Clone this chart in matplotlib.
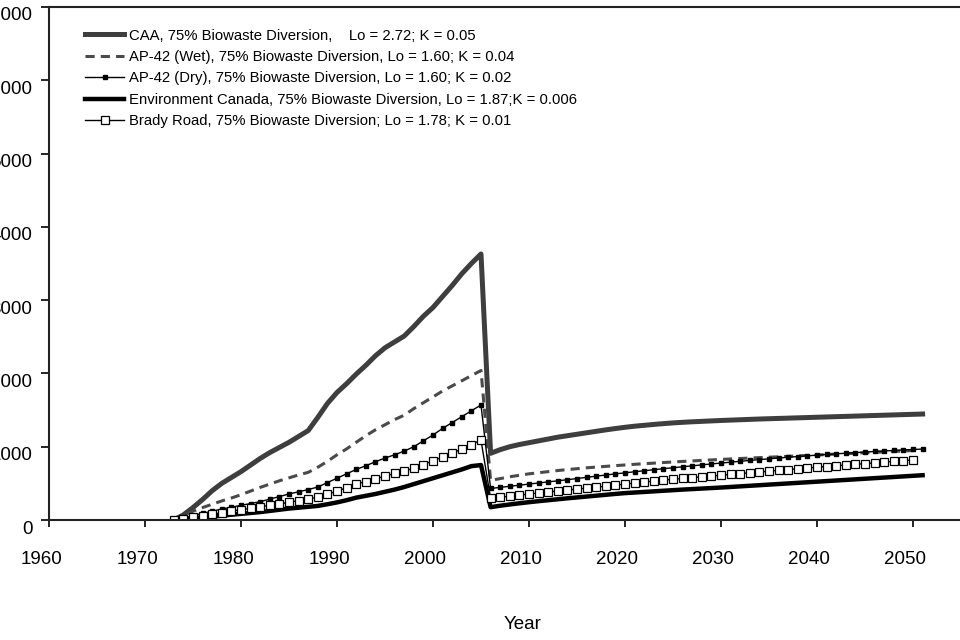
import matplotlib
matplotlib.use("Agg")
import matplotlib.pyplot as plt
import matplotlib.transforms as mtransforms

plt.rcParams['font.family'] = ['Liberation Sans', 'DejaVu Sans']

# yearly landfill gas generation, 1973-2051
years = list(range(1973, 2052))
years_brady = list(range(1973, 2051))

caa = [0, 70, 170, 280, 400, 500, 580, 660, 750, 840,
       920, 990, 1060, 1140, 1220, 1400, 1590, 1740, 1860, 1990,
       2110, 2240, 2350, 2430, 2510, 2640, 2780, 2900, 3050, 3200,
       3360, 3500, 3630, 910, 960, 1000, 1030, 1055, 1080, 1105,
       1130, 1150, 1170, 1190, 1210, 1230, 1248, 1265, 1280, 1292,
       1304, 1315, 1325, 1333, 1340, 1346, 1352, 1358, 1363, 1368,
       1373, 1378, 1382, 1386, 1390, 1394, 1398, 1402, 1406, 1410,
       1414, 1418, 1422, 1426, 1430, 1434, 1438, 1442, 1446]

ap42_wet = [0, 60, 120, 170, 215, 260, 300, 345, 395, 445,
            490, 535, 575, 615, 650, 720, 800, 890, 970, 1060,
            1150, 1230, 1300, 1370, 1430, 1520, 1600, 1680, 1760, 1830,
            1900, 1970, 2040, 540, 565, 590, 610, 630, 645, 660,
            675, 688, 700, 712, 722, 732, 742, 751, 760, 768,
            776, 784, 792, 799, 806, 813, 820, 826, 833, 839,
            845, 851, 857, 863, 869, 875, 881, 887, 893, 899,
            905, 911, 917, 923, 929, 935, 941, 947, 953]

ap42_dry = [0, 30, 60, 90, 120, 150, 175, 200, 225, 250,
            285, 320, 355, 385, 415, 450, 510, 570, 630, 690,
            740, 795, 845, 890, 940, 1000, 1080, 1160, 1250, 1330,
            1410, 1490, 1570, 430, 445, 460, 475, 490, 505, 520,
            535, 550, 566, 582, 598, 614, 629, 644, 658, 672,
            686, 700, 713, 726, 739, 752, 765, 777, 789, 801,
            813, 824, 835, 846, 856, 866, 876, 885, 894, 903,
            911, 919, 927, 935, 942, 949, 956, 962, 968]

env_canada = [0, 10, 20, 32, 45, 60, 72, 84, 96, 108,
              124, 140, 156, 168, 180, 192, 215, 240, 270, 305,
              330, 355, 385, 415, 450, 490, 530, 570, 610, 650,
              690, 735, 750, 175, 195, 212, 228, 243, 257, 270,
              283, 296, 308, 320, 332, 344, 356, 367, 375, 383,
              391, 399, 407, 415, 422, 429, 436, 443, 451, 459,
              467, 475, 483, 491, 499, 507, 515, 523, 531, 539,
              547, 555, 563, 571, 579, 587, 595, 603, 611]

brady = [0, 20, 40, 60, 80, 100, 120, 140, 160, 180,
         200, 220, 240, 265, 290, 310, 350, 395, 440, 490,
         525, 560, 600, 635, 670, 705, 755, 810, 860, 910,
         970, 1030, 1090, 295, 310, 325, 340, 355, 370, 383,
         396, 409, 422, 435, 448, 462, 476, 490, 504, 518,
         532, 545, 556, 567, 578, 589, 600, 611, 622, 633,
         644, 655, 666, 677, 688, 699, 710, 720, 730, 740,
         750, 760, 770, 780, 790, 800, 810, 820]

labels = [
    "CAA, 75% Biowaste Diversion,    Lo = 2.72; K = 0.05",
    "AP-42 (Wet), 75% Biowaste Diversion, Lo = 1.60; K = 0.04",
    "AP-42 (Dry), 75% Biowaste Diversion, Lo = 1.60; K = 0.02",
    "Environment Canada, 75% Biowaste Diversion, Lo = 1.87;K = 0.006",
    "Brady Road, 75% Biowaste Diversion; Lo = 1.78; K = 0.01",
]

fig = plt.figure(figsize=(9.6, 6.4), dpi=100)
# axes runs past the right edge, like the cropped original
ax = fig.add_axes([49 / 960, 1 - 520 / 640, 1.0, 513 / 640])

ax.plot(years, caa, color='#3e3e3e', lw=3.6, label=labels[0])
ax.plot(years, ap42_wet, color='#4a4a4a', lw=2.2, dashes=(3, 2), label=labels[1])
ax.plot(years, ap42_dry, color='black', lw=1.0, marker='s', markersize=3,
        label=labels[2])
ax.plot(years, env_canada, color='black', lw=3.2, label=labels[3])
ax.plot(years_brady, brady, color='black', lw=1.0, marker='s', markersize=6,
        markerfacecolor='white', markeredgecolor='black', markeredgewidth=0.9,
        label=labels[4])

ax.set_xlim(1960, 2060)
ax.set_ylim(0, 7000)
ax.set_xticks(range(1960, 2060, 10))
ax.set_yticks(range(0, 8000, 1000))

for s in ax.spines.values():
    s.set_linewidth(1.5)
    s.set_color('#222222')

ax.tick_params(axis='x', direction='out', length=5, width=1.2, pad=17,
               labelsize=13.5)
ax.tick_params(axis='y', direction='out', length=6, width=1.2, pad=6,
               labelsize=13.5)

# labels sit a little left / below their ticks in the original
shift_x = mtransforms.ScaledTranslation(-8 / 100, 0, fig.dpi_scale_trans)
shift_y = mtransforms.ScaledTranslation(0, -7 / 100, fig.dpi_scale_trans)
for lbl in ax.get_xticklabels():
    lbl.set_transform(lbl.get_transform() + shift_x)
for lbl in ax.get_yticklabels():
    lbl.set_transform(lbl.get_transform() + shift_y)

ax.set_xlabel("Year", fontsize=13.5, labelpad=35)
ax.xaxis.set_label_coords(474 / 960, -96 / 513)

ax.legend(loc='upper left', bbox_to_anchor=(0.038, 0.958), frameon=False,
          fontsize=10.7, handlelength=2.6, handletextpad=0.3, labelspacing=0.5,
          borderpad=0, borderaxespad=0)

fig.savefig("out.png", dpi=100)
